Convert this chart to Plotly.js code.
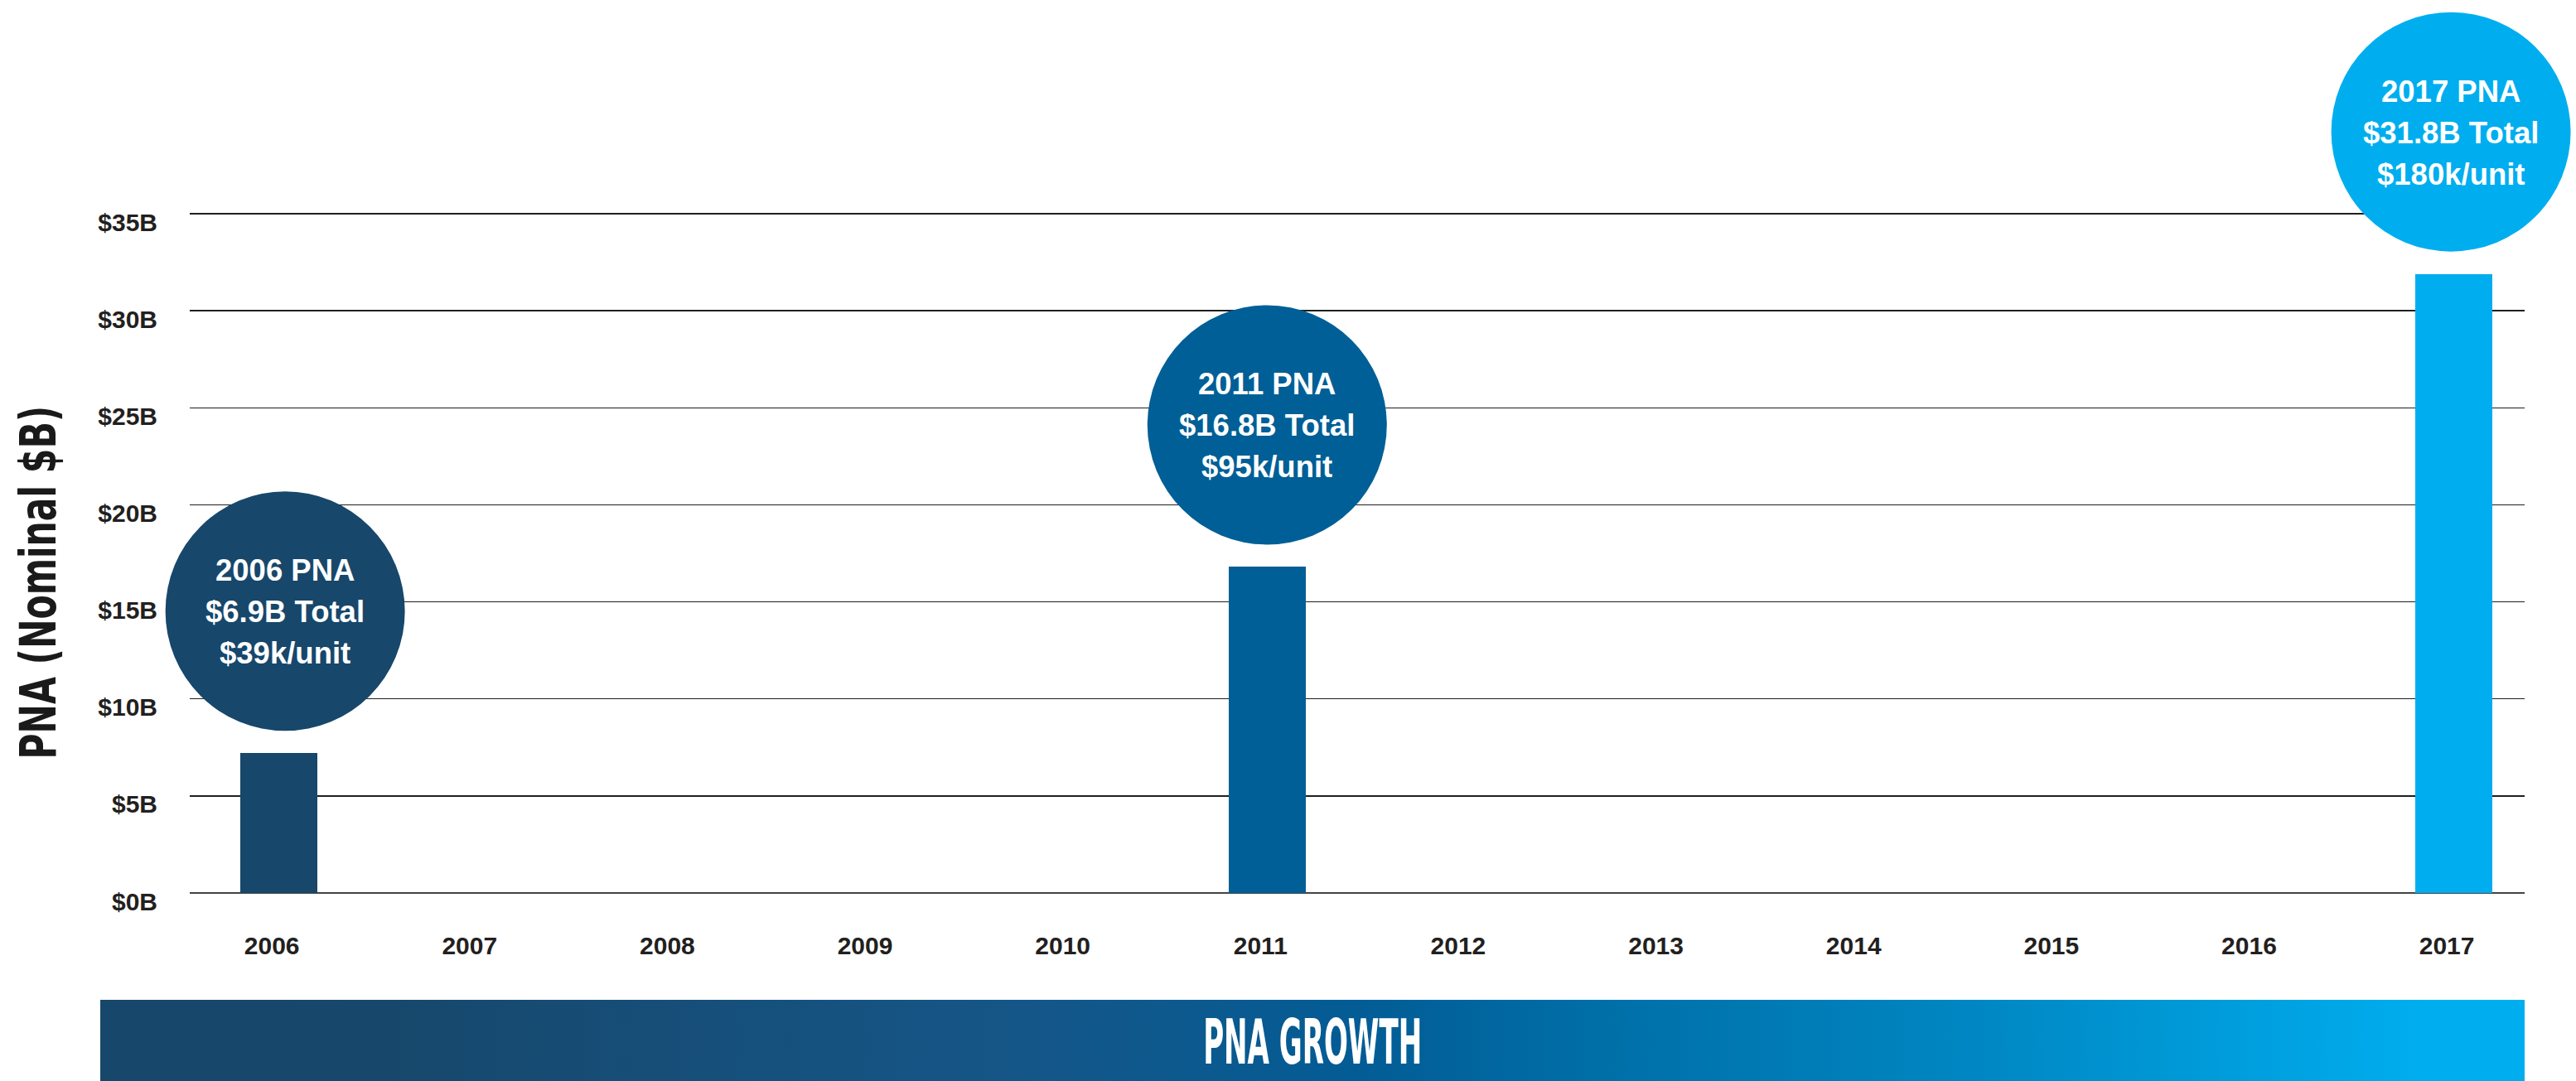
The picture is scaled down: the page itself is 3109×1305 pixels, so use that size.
<!DOCTYPE html>
<html>
<head>
<meta charset="utf-8">
<script src="https://cdn.plot.ly/plotly-3.0.1.min.js"></script>
<style>
  html, body { margin: 0; padding: 0; background: #ffffff; }
  #chart { width: 3109px; height: 1305px; }
</style>
</head>
<body>
<div id="chart"></div>
<script>
// ---------------- DATA ----------------
const years = ['2006', '2007', '2008', '2009', '2010', '2011', '2012', '2013', '2014', '2015', '2016', '2017'];
const pnaBillions = [7.2, null, null, null, null, 16.8, null, null, null, null, null, 31.9];
const yTickValues = [0, 5, 10, 15, 20, 25, 30, 35];
const yTickLabels = ['$0B', '$5B', '$10B', '$15B', '$20B', '$25B', '$30B', '$35B'];
const calloutYears = ['2006', '2011', '2017'];
const calloutTotals = ['$6.9B Total', '$16.8B Total', '$31.8B Total'];
const calloutPerUnit = ['$39k/unit', '$95k/unit', '$180k/unit'];
const yTitleText = 'PNA (Nominal $B)';
const bannerText = 'PNA GROWTH';

// ---------------- STYLE / LAYOUT ----------------
const W = 3109, H = 1305;
const M = { l: 229, r: 62, t: 5, b: 227 };
const plotW = W - M.l - M.r;
const plotH = H - M.t - M.b;
const pxX = px => (px - M.l) / plotW;
const pxY = py => (H - M.b - py) / plotH;
const xRange = [-0.449, 11.36];
const yRange = [0, 45.8];
// data -> paper through the axis ranges (linear scales)
const xToPaper = v => (v - xRange[0]) / (xRange[1] - xRange[0]);
const yToPaper = v => (v - yRange[0]) / (yRange[1] - yRange[0]);

const yearColors = { '2006': '#17476B', '2011': '#005F96', '2017': '#00AEEF' };
const circleDx = { '2006': 8, '2011': 0, '2017': -3 };
const circleR = 144.5;
const circleGap = 27;
const lineOffsets = [49, -1, -51];

const boldSans = 'Liberation Sans, Arial, Helvetica, sans-serif';
const narrowSans = 'Liberation Sans Narrow, Arial Narrow, DejaVu Sans Condensed, sans-serif';
const inkColor = '#231F20';

const barTrace = {
  type: 'bar',
  x: years,
  y: pnaBillions,
  width: 0.39,
  marker: { color: years.map(y => yearColors[y] || '#17476B'), line: { width: 0 } },
  hoverinfo: 'skip',
  showlegend: false
};

const shapes = [];
const annotations = [];

calloutYears.forEach((yr, i) => {
  const idx = years.indexOf(yr);
  const val = pnaBillions[idx];
  const dx = circleDx[yr];
  const color = yearColors[yr];
  shapes.push({
    type: 'circle', xref: 'paper', yref: 'paper',
    xsizemode: 'pixel', ysizemode: 'pixel',
    xanchor: xToPaper(idx), yanchor: yToPaper(val),
    x0: dx - circleR, x1: dx + circleR,
    y0: circleGap, y1: circleGap + 2 * circleR,
    fillcolor: color, line: { width: 0 }, layer: 'above'
  });
  const lines = [yr + ' PNA', calloutTotals[i], calloutPerUnit[i]];
  lines.forEach((t, k) => {
    annotations.push({
      xref: 'x', yref: 'y', x: idx, y: val,
      xanchor: 'center', yanchor: 'middle',
      xshift: dx, yshift: circleGap + circleR + lineOffsets[k],
      text: t, showarrow: false,
      font: { family: boldSans, size: 36.5, color: '#ffffff', weight: 'bold' }
    });
  });
});

// y-axis title (rotated)
annotations.push({
  xref: 'paper', yref: 'paper', x: pxX(46), y: pxY(703.5),
  xanchor: 'center', yanchor: 'middle', textangle: -90,
  text: yTitleText, showarrow: false,
  font: { family: narrowSans, size: 60, color: '#1a1a1a', weight: 'bold' }
});

// banner title
annotations.push({
  xref: 'paper', yref: 'paper', x: pxX(1584), y: pxY(1258),
  xanchor: 'center', yanchor: 'middle',
  text: bannerText, showarrow: false,
  font: { family: narrowSans, size: 74, color: '#ffffff', weight: 'bold' }
});

// banner gradient
const bannerX0 = 121, bannerX1 = 3047, bannerY0 = 1207, bannerY1 = 1305;
const bw = bannerX1 - bannerX0, bh = bannerY1 - bannerY0;
const gradStops = [
  [0, '#17476B'], [0.12, '#17486C'], [0.38, '#155688'], [0.52, '#035C95'],
  [0.62, '#006FA8'], [0.78, '#0088C4'], [0.96, '#00AEEF'], [1, '#00AEEF']
];
const svg = `<svg xmlns='http://www.w3.org/2000/svg' width='${bw}' height='${bh}' viewBox='0 0 ${bw} ${bh}' preserveAspectRatio='none'>` +
  `<defs><linearGradient id='g' x1='0' y1='0' x2='1' y2='0'>` +
  gradStops.map(s => `<stop offset='${s[0]}' stop-color='${s[1]}'/>`).join('') +
  `</linearGradient></defs><rect x='0' y='0' width='${bw}' height='${bh}' fill='url(#g)'/></svg>`;
const bannerSrc = 'data:image/svg+xml;charset=utf-8,' + encodeURIComponent(svg);

const layout = {
  width: W, height: H,
  margin: M,
  paper_bgcolor: '#ffffff', plot_bgcolor: '#ffffff',
  showlegend: false,
  bargap: 0,
  xaxis: {
    type: 'category',
    categoryorder: 'array', categoryarray: years,
    range: xRange,
    showgrid: false, zeroline: false, showline: false,
    ticks: '', ticklen: 0,
    ticklabelstandoff: 43,
    ticklabelshift: -8,
    tickfont: { family: boldSans, size: 30, color: inkColor, weight: 'bold' },
    fixedrange: true
  },
  yaxis: {
    range: yRange,
    tickmode: 'array', tickvals: yTickValues, ticktext: yTickLabels,
    showgrid: true, gridcolor: '#1f1f1f', gridwidth: 1.5,
    zeroline: true, zerolinecolor: '#444444', zerolinewidth: 2,
    showline: false, ticks: '', ticklen: 0,
    ticklabelstandoff: 38,
    ticklabelshift: 10,
    tickfont: { family: boldSans, size: 30, color: inkColor, weight: 'bold' },
    fixedrange: true
  },
  shapes: shapes,
  annotations: annotations,
  images: [{
    source: bannerSrc, xref: 'paper', yref: 'paper',
    x: pxX(bannerX0), y: pxY(bannerY0),
    sizex: bw / plotW, sizey: bh / plotH,
    xanchor: 'left', yanchor: 'top', sizing: 'stretch', layer: 'below'
  }]
};

Plotly.newPlot('chart', [barTrace], layout, { staticPlot: true, displayModeBar: false }).then(gd => {
  gd.querySelectorAll('text.annotation-text').forEach(t => {
    const txt = t.textContent;
    if (txt === bannerText) {
      t.setAttribute('textLength', 264);
      t.setAttribute('lengthAdjust', 'spacingAndGlyphs');
    } else if (txt === yTitleText) {
      t.setAttribute('textLength', 427);
      t.setAttribute('lengthAdjust', 'spacingAndGlyphs');
    }
  });
});
</script>
</body>
</html>
